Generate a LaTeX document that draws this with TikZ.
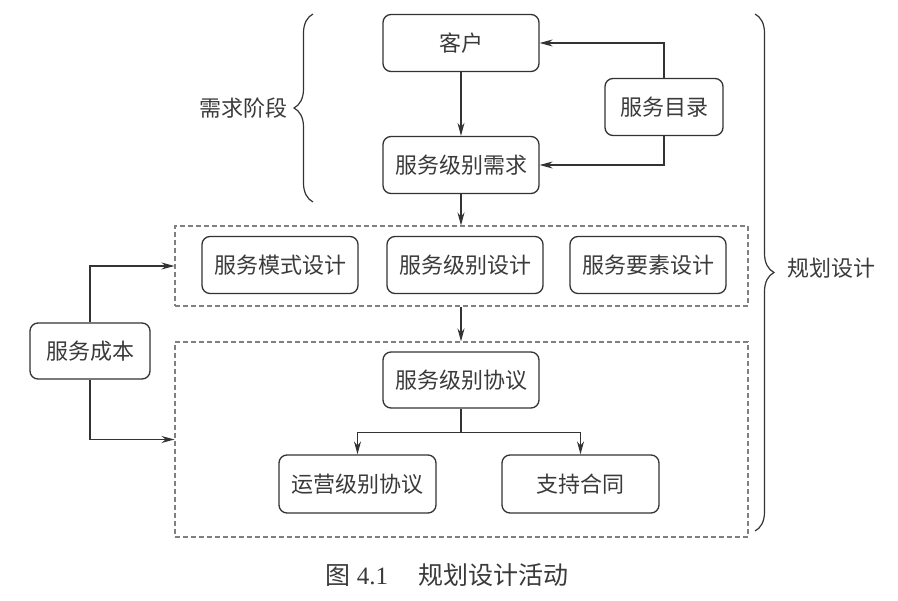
\documentclass[tikz,border=0pt]{standalone}
\usepackage{fontspec}
\newfontfamily\cjk{Noto Sans CJK SC}
\newfontfamily\lib{Liberation Serif}
\usetikzlibrary{arrows.meta,decorations.pathreplacing}
\definecolor{linec}{HTML}{333333}
\definecolor{dashc}{HTML}{808080}
\definecolor{txt}{HTML}{3A3A3A}
\begin{document}
\begin{tikzpicture}[x=1pt,y=-1pt,
  box/.style={draw=linec, line width=1.3pt, rounded corners=8pt, minimum height=57pt, minimum width=156pt, inner sep=0pt, font=\cjk\fontsize{22}{22}\selectfont, text=txt},
  dbox/.style={draw=dashc, dash pattern=on 5pt off 3pt, line width=1.1pt, inner sep=0pt},
  arr/.style={-{Stealth[length=13pt,width=7pt]}, line width=1.2pt, draw=linec},
  ln/.style={line width=1.2pt, draw=linec},
  brc/.style={decorate, decoration={brace, amplitude=19pt}, line width=1.2pt, draw=linec},
  lbl/.style={font=\cjk\fontsize{22}{22}\selectfont, text=txt, inner sep=0pt}]
\useasboundingbox (0,0) rectangle (898,601);
% dashed group frames
\node[dbox, minimum width=573pt, minimum height=80pt] (d1) at (461.5,266) {};
\node[dbox, minimum width=573pt, minimum height=195pt] (d2) at (461.5,439.5) {};
% boxes
\node[box] (kh) at (461,43) {客户};
\node[box, minimum width=118pt] (ml) at (664,107) {服务目录};
\node[box] (xq) at (461,165) {服务级别需求};
\node[box] (ms) at (280,265) {服务模式设计};
\node[box] (jb) at (465,265) {服务级别设计};
\node[box] (ys) at (648,265) {服务要素设计};
\node[box, minimum height=56pt] (xy) at (461,380) {服务级别协议};
\node[box, minimum width=157pt, minimum height=58pt] (yy) at (357.5,484) {运营级别协议};
\node[box, minimum width=157pt, minimum height=58pt] (zc) at (580.5,484) {支持合同};
\node[box, minimum width=120pt, minimum height=56pt] (cb) at (90,351) {服务成本};
% labels
\node[lbl] (xqjd) at (243,108) {需求阶段};
\node[lbl] (ghsj) at (831,268) {规划设计};
\node[font=\cjk\fontsize{25}{25}\selectfont, text=txt, inner sep=0pt] (cap) at (447,575) {图\hspace{6pt}{\lib 4.1}\hspace{30pt}规划设计活动};
% braces
\draw[brc] (313,202) -- (313,14);
\draw[brc] (755,14) -- (755,531);
% connectors
\draw[arr] (kh) -- (xq);
\draw[arr] (ml.north) |- (kh.east);
\draw[arr] (ml.south) |- (xq.east);
\draw[arr] (xq.south) -- (xq.south |- d1.north);
\draw[arr] (xy.north |- d1.south) -- (xy.north |- d2.north);
\draw[ln] (xy.south) -- ++(0,24) coordinate (j);
\draw[arr] (j) -| (yy.north);
\draw[arr] (j) -| (zc.north);
\draw[arr] (cb.north) |- (d1.west);
\draw[arr] (cb.south) |- (d2.west);
\end{tikzpicture}
\end{document}
